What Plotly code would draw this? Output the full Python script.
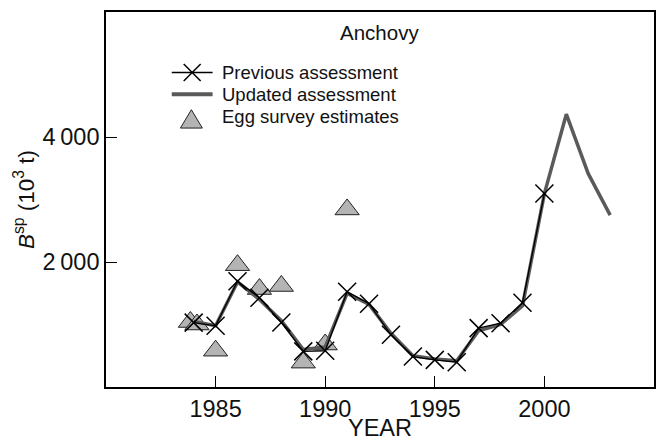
import plotly.graph_objects as go

# Previous assessment (X markers)
prev_years = [1984, 1985, 1986, 1987, 1988, 1989, 1990, 1991, 1992, 1993, 1994, 1995, 1996, 1997, 1998, 1999, 2000]
prev_vals = [1030, 979, 1693, 1428, 1032, 570, 580, 1524, 1333, 836, 487, 434, 397, 942, 1021, 1349, 3095]

# Updated assessment (gray line)
upd_years = [1984, 1985, 1986, 1987, 1988, 1989, 1990, 1991, 1992, 1993, 1994, 1995, 1996, 1997, 1998, 1999, 2000, 2001, 2002, 2003]
upd_vals = [1050, 979, 1680, 1400, 1060, 600, 640, 1500, 1320, 860, 500, 450, 420, 900, 1000, 1300, 3095, 4365, 3413, 2751]

# Egg survey estimates (triangles)
egg_years = [1983.85, 1984.15, 1985, 1986, 1987, 1988, 1989, 1990, 1991]
egg_vals = [1040, 1000, 581, 1949, 1567, 1616, 390, 680, 2841]

y_tickvals = [2000, 4000]
y_ticktext = ["2\u2009000", "4\u2009000"]
x_tickvals = [1985, 1990, 1995, 2000]

legend_labels = ["Previous assessment", "Updated assessment", "Egg survey estimates"]

FONT = "Liberation Sans, Arial, sans-serif"
W, H = 659, 441
ML, MR, MT, MB = 106, 3, 12, 51
PW, PH = W - ML - MR, H - MT - MB

def px(x):
    return (x - ML) / PW

def py(y):
    return (H - MB - y) / PH

PREV_COLOR = "#000000"
UPD_COLOR = "#5a5a5a"
EGG_FILL = "#b4b4b4"

fig = go.Figure()
fig.add_trace(go.Scatter(
    x=egg_years, y=egg_vals, mode="markers", name=legend_labels[2],
    marker=dict(symbol="triangle-up", size=21, color=EGG_FILL,
                line=dict(color="#222222", width=1))))
fig.add_trace(go.Scatter(
    x=upd_years, y=upd_vals, mode="lines", name=legend_labels[1],
    line=dict(color=UPD_COLOR, width=3.5)))
fig.add_trace(go.Scatter(
    x=prev_years, y=prev_vals, mode="lines+markers", name=legend_labels[0],
    line=dict(color=PREV_COLOR, width=1.3),
    marker=dict(symbol="x-thin", size=18, line=dict(color=PREV_COLOR, width=1.5))))

# Manual legend (tighter row spacing than plotly's built-in legend)
row_y = [73, 95, 117]
sym_x0, sym_x1, sym_xc = 172, 213, 192.5
text_x = 220
shapes = []
# previous: thin black line with an X
shapes.append(dict(type="line", xref="paper", yref="paper",
                   x0=px(sym_x0), x1=px(sym_x1), y0=py(row_y[0]), y1=py(row_y[0]),
                   line=dict(color=PREV_COLOR, width=1.3)))
hs = 8.5
for dx0, dy0, dx1, dy1 in [(-hs, -hs, hs, hs), (-hs, hs, hs, -hs)]:
    shapes.append(dict(type="line", xref="paper", yref="paper",
                       x0=px(sym_xc + dx0), y0=py(row_y[0] + dy0),
                       x1=px(sym_xc + dx1), y1=py(row_y[0] + dy1),
                       line=dict(color=PREV_COLOR, width=1.5)))
# updated: thick gray line
shapes.append(dict(type="line", xref="paper", yref="paper",
                   x0=px(sym_x0), x1=px(sym_x1), y0=py(row_y[1]), y1=py(row_y[1]),
                   line=dict(color=UPD_COLOR, width=4)))
# egg: gray triangle
tx, ty = 191.7, row_y[2]
tri = "M {:.5f},{:.5f} L {:.5f},{:.5f} L {:.5f},{:.5f} Z".format(
    px(tx - 11), py(ty + 12), px(tx + 11), py(ty + 12), px(tx), py(ty - 6.5))
shapes.append(dict(type="path", xref="paper", yref="paper", path=tri,
                   fillcolor=EGG_FILL, line=dict(color="#222222", width=1)))

annotations = [dict(text="Anchovy", x=px(380), y=py(33), xref="paper", yref="paper",
                    xanchor="center", yanchor="middle", showarrow=False,
                    font=dict(size=20.5, family=FONT))]
for lab, ry in zip(legend_labels, row_y):
    annotations.append(dict(text=lab, x=px(text_x), y=py(ry), xref="paper", yref="paper",
                            xanchor="left", yanchor="middle", showarrow=False,
                            font=dict(size=18.5, family=FONT)))

fig.update_layout(
    width=W, height=H,
    margin=dict(l=ML, r=MR, t=MT, b=MB),
    paper_bgcolor="white", plot_bgcolor="white",
    font=dict(family=FONT, color="#111111", size=20),
    showlegend=False,
    shapes=shapes,
    annotations=annotations,
)
fig.update_xaxes(
    range=[1980, 2005], tickvals=x_tickvals, ticks="inside", ticklen=11,
    tickwidth=1.3, tickcolor="black", showline=True, linecolor="black",
    linewidth=1.6, mirror=True, showgrid=False, zeroline=False,
    tickfont=dict(size=23.5), title=dict(text="YEAR", standoff=0, font=dict(size=23.5)))
fig.update_yaxes(
    range=[0, 6000], tickvals=y_tickvals, ticktext=y_ticktext, ticks="inside",
    ticklen=11, tickwidth=1.3, tickcolor="black", showline=True, linecolor="black",
    linewidth=1.6, mirror=True, showgrid=False, zeroline=False,
    minor=dict(ticks="inside", ticklen=11, tick0=0, dtick=2000, tickcolor="black",
               tickwidth=1.3, showgrid=False),
    tickfont=dict(size=23.5),
    title=dict(text="<i>B</i><sup>sp</sup> (10<sup>3</sup> t)", standoff=2, font=dict(size=22.5)))

fig.write_html("out.html")
